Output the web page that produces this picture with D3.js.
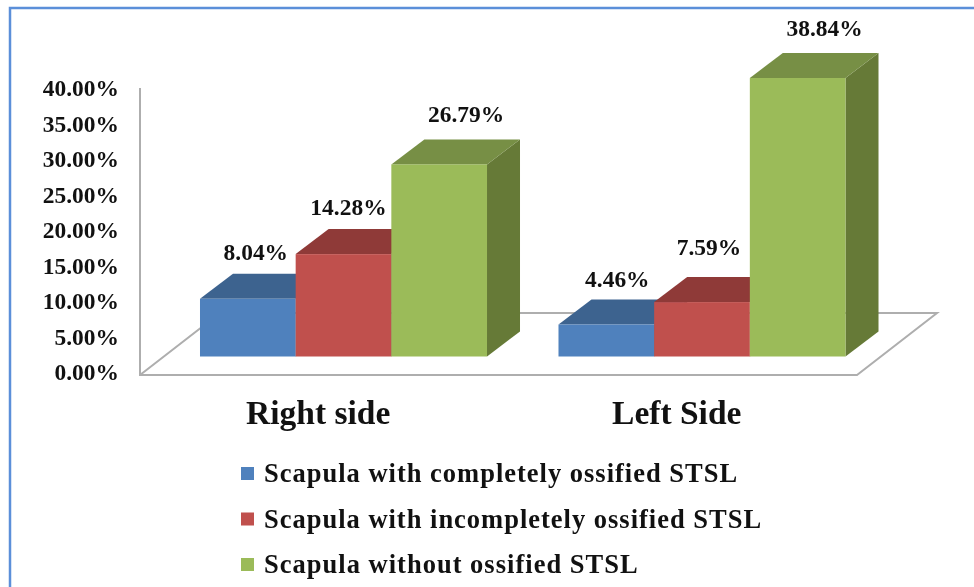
<!DOCTYPE html>
<html>
<head>
<meta charset="utf-8">
<script src="https://cdn.jsdelivr.net/npm/d3@7"></script>
<style>
  html, body { margin: 0; padding: 0; background: #fff; }
  svg { display: block; filter: blur(0.45px); }
  text { font-family: "Liberation Serif", serif; font-weight: bold; fill: #111; }
</style>
</head>
<body>
<svg id="chart" width="974" height="587"></svg>
<script>
var sides = ["Right side", "Left Side"];
var series = ["Scapula with completely ossified STSL", "Scapula with incompletely ossified STSL", "Scapula without ossified STSL"];
var completely = [8.04, 4.46];
var incompletely = [14.28, 7.59];
var without = [26.79, 38.84];
var ticks = [0, 5, 10, 15, 20, 25, 30, 35, 40];

var front = ["#4f81bd", "#c0504d", "#9bbb59"];
var topFace = ["#3d638f", "#8f3a38", "#778f45"];
var sideFace = ["#324f73", "#702e2c", "#667a37"];

// nudges for the value labels, the original ones were placed by hand
var labelNudge = [[[8, -46], [5, -46], [27, -50]], [[11, -45], [7, -54], [27, -49]]];

var svg = d3.select("#chart");
var depth = {x: 33, y: -25};
var floorDepth = {x: 80, y: -62};
var barShift = 24.25;

var x = d3.scaleBand().domain(sides).range([140, 857]).paddingInner(0.1994).paddingOuter(0.0997);
var xCat = d3.scaleBand().domain(sides).range([140, 857]);
var xSeries = d3.scaleBand().domain(d3.range(series.length)).range([0, x.bandwidth()]);

// bars stand further back than the axis, so they get their own scale
var yAxis = d3.scaleLinear().domain([0, 40]).range([375, 88]);
var yTick = d3.scaleLinear().domain([0, 40]).range([372.5, 88.5]);
var yBar = d3.scaleLinear().domain([0, 40]).range([356.5, 69.7]);

// widen text a little, adjust says whether glyphs or only the gaps take it
function stretch(sel, k, adjust) {
  sel.each(function() {
    d3.select(this)
      .attr("textLength", this.getComputedTextLength() * k)
      .attr("lengthAdjust", adjust || "spacingAndGlyphs");
  });
}

svg.append("path")
  .attr("d", "M10,587V8H974")
  .attr("fill", "none")
  .attr("stroke", "#5b8fd9")
  .attr("stroke-width", 2.5);

// floor and wall
var left = xCat.range()[0], right = xCat.range()[1];
svg.append("path")
  .attr("d", d3.line()([
    [left, yAxis(40)], [left, yAxis(0)], [right, yAxis(0)],
    [right + floorDepth.x, yAxis(0) + floorDepth.y],
    [left + floorDepth.x, yAxis(0) + floorDepth.y],
    [left, yAxis(0)]
  ]))
  .attr("fill", "none")
  .attr("stroke", "#aeaeae")
  .attr("stroke-width", 2);

var ax = d3.axisLeft(yTick).tickValues(ticks).tickSize(0).tickPadding(0)
  .tickFormat(function(d) { return d.toFixed(2) + "%"; });

var axisG = svg.append("g")
  .attr("transform", "translate(119,0)")
  .call(ax);
axisG.select(".domain").remove();
axisG.selectAll("text")
  .style("font-size", "23px")
  .style("font-family", "'Liberation Serif', serif")
  .style("font-weight", "bold")
  .call(stretch, 1.02);

var values = [completely, incompletely, without];

var bars = [];
sides.forEach(function(s, i) {
  values.forEach(function(v, j) {
    bars.push({side: s, i: i, j: j, value: v[i]});
  });
});

function bx(d) { return x(d.side) + barShift + xSeries(d.j); }

var bar = svg.selectAll(".bar")
  .data(bars)
  .enter().append("g")
    .attr("class", "bar");

bar.append("path")
  .attr("fill", function(d) { return sideFace[d.j]; })
  .attr("d", function(d) {
    var r = bx(d) + xSeries.bandwidth(), t = yBar(d.value), b = yBar(0);
    return d3.line()([[r, t], [r + depth.x, t + depth.y], [r + depth.x, b + depth.y], [r, b]]) + "Z";
  });

bar.append("path")
  .attr("fill", function(d) { return topFace[d.j]; })
  .attr("d", function(d) {
    var l = bx(d), r = l + xSeries.bandwidth(), t = yBar(d.value);
    return d3.line()([[l, t], [l + depth.x, t + depth.y], [r + depth.x, t + depth.y], [r, t]]) + "Z";
  });

bar.append("rect")
  .attr("x", bx)
  .attr("y", function(d) { return yBar(d.value); })
  .attr("width", xSeries.bandwidth())
  .attr("height", function(d) { return yBar(0) - yBar(d.value); })
  .attr("fill", function(d) { return front[d.j]; });

svg.selectAll(".value")
  .data(bars)
  .enter().append("text")
    .attr("class", "value")
    .attr("x", function(d) { return bx(d) + xSeries.bandwidth() / 2 + labelNudge[d.i][d.j][0]; })
    .attr("y", function(d) { return yBar(d.value) + labelNudge[d.i][d.j][1]; })
    .attr("dy", "0.32em")
    .attr("text-anchor", "middle")
    .style("font-size", "23px")
    .text(function(d) { return d.value.toFixed(2) + "%"; })
    .call(stretch, 1.02);

svg.selectAll(".cat")
  .data(sides)
  .enter().append("text")
    .attr("class", "cat")
    .attr("x", function(d) { return xCat(d) + xCat.bandwidth() / 2 - 1; })
    .attr("y", 424)
    .attr("text-anchor", "middle")
    .style("font-size", "33.5px")
    .text(function(d) { return d; });

var legendY = d3.scalePoint().domain(series).range([474, 565]);

var legend = svg.selectAll(".legend")
  .data(series)
  .enter().append("g")
    .attr("class", "legend")
    .attr("transform", function(d) { return "translate(241," + legendY(d) + ")"; });

legend.append("rect")
  .attr("y", -7)
  .attr("width", 13)
  .attr("height", 13)
  .attr("fill", function(d, i) { return front[i]; });

legend.append("text")
  .attr("x", 23)
  .attr("y", 8)
  .style("font-size", "26.5px")
  .text(function(d) { return d; })
  .call(stretch, 1.082, "spacing");
</script>
</body>
</html>
